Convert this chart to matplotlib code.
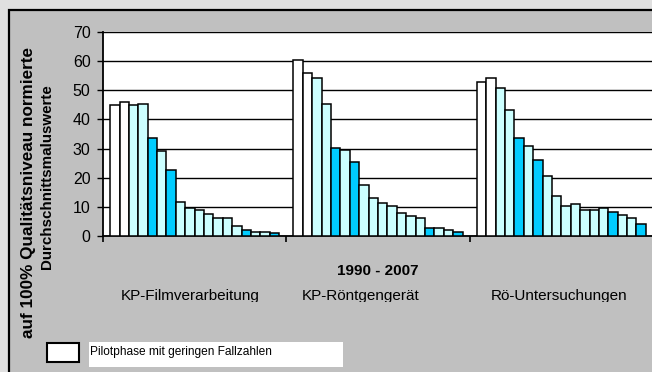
import matplotlib
matplotlib.use("Agg")
import matplotlib.pyplot as plt
from matplotlib.patches import Rectangle
from matplotlib.transforms import Bbox
import numpy as np

plt.rcParams['font.family'] = ['Liberation Sans', 'DejaVu Sans']

categories = ["KP-Filmverarbeitung", "KP-Röntgengerät", "Rö-Untersuchungen"]
g1 = [45.0, 46.1, 45.0, 45.4, 33.6, 29.1, 22.8, 11.7, 9.6, 8.8, 7.5, 6.3, 6.3, 3.5, 2.1, 1.4, 1.4, 0.9]
g2 = [60.4, 56.0, 54.3, 45.3, 30.3, 29.4, 25.4, 17.4, 13.0, 11.2, 10.3, 7.8, 6.9, 6.2, 2.6, 2.9, 2.1, 1.5]
g3 = [53.0, 54.3, 50.7, 43.4, 33.6, 30.9, 26.2, 20.7, 13.8, 10.4, 11.1, 8.9, 8.9, 9.5, 8.2, 7.1, 6.3, 4.2]
groups = [g1, g2, g3]
# bar type per year: 'p' = pilot phase, 'l' = light, 'b' = blue
bar_types = ['p', 'p', 'l', 'l', 'b', 'l', 'b', 'l', 'l', 'l', 'l', 'l', 'l', 'l', 'b', 'l', 'l', 'b']
type_colors = {'p': '#FFFFFF', 'l': '#CCFFFF', 'b': '#00CCFF'}
yticks = [0, 10, 20, 30, 40, 50, 60, 70]
xlabel_text = "1990 - 2007"
ylabel_line1 = "auf 100% Qualitätsniveau normierte"
ylabel_line2 = "Durchschnittsmaluswerte"
legend_text = "Pilotphase mit geringen Fallzahlen"

W, H = 652, 372
fig = plt.figure(figsize=(W / 100, H / 100), dpi=100)
fig.patch.set_facecolor('#E0E0E0')

def fx(x):
    return x / W

def fy(y):
    return 1 - y / H

# chart area
fig.add_artist(Rectangle((fx(8.5), fy(380)), fx(660), 380 / H - 9.5 / H,
                         transform=fig.transFigure, facecolor='#C0C0C0',
                         edgecolor='black', linewidth=1.6, zorder=0))

ax = fig.add_axes([fx(103), fy(236), fx(550), 204 / H])
ax.set_facecolor('white')

n = len(bar_types)
group_w = 0.922
w = group_w / n
colors = [type_colors[t] for t in bar_types]
for ci, vals in enumerate(groups):
    xs = ci - group_w / 2 + w / 2 + np.arange(n) * w
    ax.bar(xs, vals, width=w, color=colors, edgecolor='black', linewidth=1.1, zorder=3)

ax.set_xlim(-0.5, 2.5)
ax.set_ylim(0, 70)
ax.set_yticks(yticks)
ax.set_yticklabels([str(t) for t in yticks], fontsize=11.5)
ax.yaxis.grid(True, color='black', linewidth=1.0, zorder=1)
ax.set_axisbelow(True)
ax.set_xticks([-0.5, 0.5, 1.5])
ax.set_xticklabels([])
ax.tick_params(axis='x', direction='out', length=4, width=1.2, colors='black')
ax.tick_params(axis='y', direction='out', length=4, width=1.0, pad=5, colors='black')
for s in ['top', 'right']:
    ax.spines[s].set_visible(False)
ax.spines['left'].set_linewidth(1.3)
ax.spines['bottom'].set_linewidth(1.3)

# category labels (clipped at bottom like the original)
clipbox = Bbox.from_extents(0, H - 301.5, W, H)
label_x = [190, 361, 559]
for lx, cat in zip(label_x, categories):
    t = fig.text(fx(lx), fy(300), cat, ha='center', va='baseline', fontsize=11)
    t.set_clip_on(True)
    t.set_clip_box(clipbox)

fig.text(fx(378), fy(271), xlabel_text, ha='center', va='center',
         fontsize=11, fontweight='bold')

# y label lines
t1 = fig.text(fx(28), fy(338), ylabel_line1, rotation=90, rotation_mode='anchor',
              ha='left', va='center', fontsize=12.3, fontweight='bold')
t1.set_clip_on(True)
t1.set_clip_box(Bbox.from_extents(0, 0, W, H - 45))
fig.text(fx(47), fy(177), ylabel_line2, rotation=90, rotation_mode='anchor',
         ha='center', va='center', fontsize=10.9, fontweight='bold')

# legend
fig.add_artist(Rectangle((fx(47), fy(362)), fx(32), 19 / H, transform=fig.transFigure,
                         facecolor='white', edgecolor='black', linewidth=1.5, zorder=2))
fig.add_artist(Rectangle((fx(89), fy(367)), fx(254), 25 / H, transform=fig.transFigure,
                         facecolor='white', edgecolor='none', zorder=2))
fig.text(fx(90), fy(352), legend_text, ha='left', va='center', fontsize=8.6, zorder=3)

fig.savefig('out.png', dpi=100, facecolor=fig.get_facecolor())
